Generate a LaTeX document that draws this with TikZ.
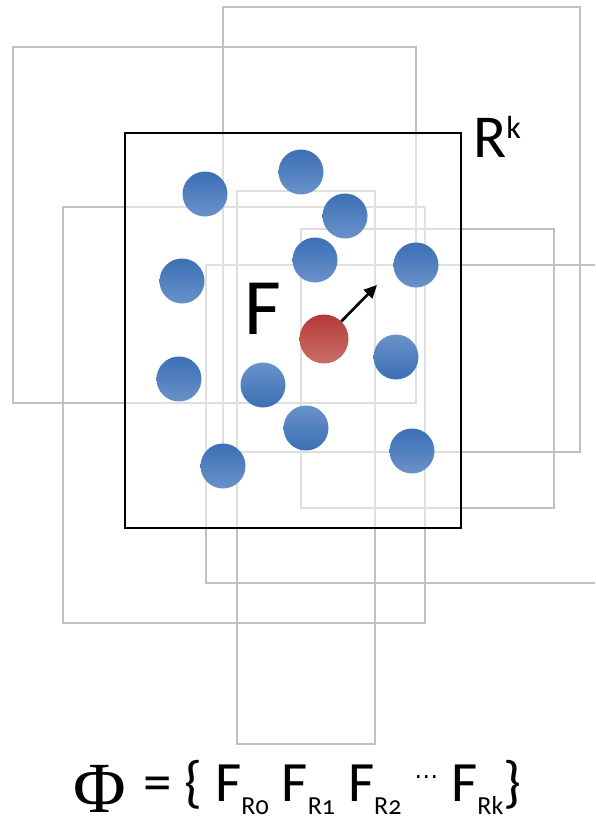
\documentclass[tikz,border=0pt]{standalone}
\usepackage{fontspec}
\setmainfont{Carlito}
\newfontfamily\phifont{Liberation Serif}
\newfontfamily\dotsfont{DejaVu Sans}
\newfontfamily\subfont[Numbers=OldStyle]{Carlito}
\usetikzlibrary{arrows.meta}
\definecolor{balltop}{RGB}{59,111,180}
\definecolor{ballbot}{RGB}{106,146,202}
\definecolor{redtop}{RGB}{180,58,55}
\definecolor{redbot}{RGB}{202,110,104}
\definecolor{rectgray}{RGB}{192,192,192}
\newcommand\subR[1]{\raisebox{-13pt}{\subfont\fontsize{26}{26}\selectfont R#1}}
\begin{document}
\begin{tikzpicture}[x=1pt,y=-1pt,
  grayrect/.style={draw=rectgray, line width=2.5pt},
  mainrect/.style={draw=black, line width=2.8pt, fill=white, fill opacity=0.5},
  blueball/.style={circle, inner sep=0pt, minimum size=45pt, top color=balltop, bottom color=ballbot, draw=none},
  blueballrev/.style={circle, inner sep=0pt, minimum size=45pt, top color=ballbot, bottom color=balltop, draw=none},
  redball/.style={circle, inner sep=0pt, minimum size=49pt, top color=redtop, bottom color=redbot, draw=none},
  arrowline/.style={line width=2.7pt, -{Triangle[length=13pt,width=12pt]}}]
\useasboundingbox (0,0) rectangle (595,816);
\begin{scope}
\clip (0,0) rectangle (595,816);
\draw[grayrect] (13,47) rectangle (416,403);
\draw[grayrect] (223,7) rectangle (580,452);
\draw[grayrect] (63,207) rectangle (425,623);
\draw[grayrect] (237,191) rectangle (375,744);
\draw[grayrect] (206,265) rectangle (620,583);
\draw[grayrect] (301,229) rectangle (554,508);
\end{scope}
\draw[mainrect] (125,133) rectangle (461,528);
% balls
\node[blueball] (b1) at (205,194) {};
\node[blueball] (b2) at (301,172) {};
\node[blueball] (b3) at (345,216) {};
\node[blueball] (b4) at (182,281) {};
\node[blueball] (b5) at (315,260) {};
\node[blueball] (b6) at (416,265) {};
\node[blueball] (b7) at (179,379) {};
\node[blueballrev] (b8) at (263,385) {};
\node[blueballrev] (b9) at (396,357) {};
\node[blueballrev] (b10) at (306,428) {};
\node[blueball] (b11) at (223,466) {};
\node[blueball] (b12) at (412,451) {};
\node[redball] (red) at (324,339) {};
\coordinate (tip) at (377,285);
\draw[arrowline] (red) -- (tip);
% labels
\node[anchor=base west, inner sep=0pt, font=\fontsize{80}{80}\selectfont] (F) at (244,334) {F};
\node[anchor=base west, inner sep=0pt, font=\fontsize{61}{61}\selectfont] (Rk) at (473,157) {R\raisebox{19pt}{\fontsize{32}{32}\selectfont k}};
% formula
\node[anchor=base west, inner sep=0pt, font=\phifont\fontsize{72}{72}\selectfont] (phi) at (73,812) {Φ};
\node[anchor=base west, inner sep=0pt, font=\fontsize{57}{57}\selectfont] (formula) at (143,801)
  {= \{ F\subR{0} F\subR{1} F\subR{2} \raisebox{17pt}{\dotsfont\fontsize{24}{24}\selectfont ⋯} F\subR{k}\}};
\end{tikzpicture}
\end{document}
